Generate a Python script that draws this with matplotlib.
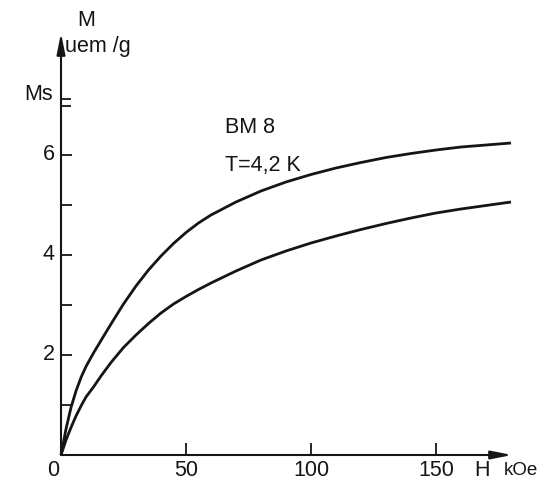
import matplotlib
matplotlib.use("Agg")
import matplotlib.pyplot as plt

# --- data ---
H = [0, 2, 4, 6, 8, 10, 13, 16, 20, 25, 30, 35, 40, 45, 50, 55, 60, 70, 80,
     90, 100, 110, 120, 130, 140, 150, 160, 170, 180]
M_upper = [0, 0.52, 0.95, 1.28, 1.55, 1.77, 2.04, 2.29, 2.62, 3.02, 3.38, 3.70,
           3.98, 4.23, 4.45, 4.64, 4.80, 5.06, 5.28, 5.46, 5.61, 5.74, 5.85,
           5.95, 6.03, 6.10, 6.16, 6.20, 6.24]
M_lower = [0, 0.30, 0.55, 0.78, 0.98, 1.16, 1.36, 1.58, 1.85, 2.15, 2.40, 2.63,
           2.84, 3.02, 3.17, 3.31, 3.44, 3.68, 3.90, 4.08, 4.24, 4.38, 4.51,
           4.63, 4.74, 4.84, 4.92, 4.99, 5.06]
x_ticks = [50, 100, 150]
x_labels = ["50", "100", "150"]
y_ticks = [1, 2, 3, 4, 5, 6]
y_labels = {2: "2", 4: "4", 6: "6"}
Ms = 7.05

plt.rcParams['font.family'] = ['Liberation Sans', 'DejaVu Sans']
ink = '#151515'

fig = plt.figure(figsize=(5.37, 4.86), dpi=100)
ax = fig.add_axes([0, 0, 1, 1])
ax.set_xlim(-24.4, 190.4)
ax.set_ylim(-0.62, 9.1)
ax.axis('off')

# axes with arrows
arrow = dict(arrowstyle='-|>,head_length=0.9,head_width=0.18', lw=1.5,
             color=ink, mutation_scale=14, shrinkA=0, shrinkB=0)
ax.annotate('', xy=(180.4, 0), xytext=(0, 0), arrowprops=arrow)
ax.annotate('', xy=(0, 8.44), xytext=(0, 0), arrowprops=arrow)

# ticks
ax.vlines(x_ticks, 0, 0.24, color=ink, lw=1.3)
ax.hlines(y_ticks, 0, 4.4, color=ink, lw=1.3)
ax.hlines([Ms - 0.075, Ms + 0.075], 0, 4.0, color=ink, lw=1.3)

# curves
ax.plot(H, M_upper, color=ink, lw=2.0, solid_capstyle='butt', solid_joinstyle='round')
ax.plot(H, M_lower, color=ink, lw=2.0, solid_capstyle='butt', solid_joinstyle='round')

fs = 15.5
for v, lab in y_labels.items():
    ax.text(-2.4, v, lab, ha='right', va='center', fontsize=fs, color=ink)
for v, lab in zip(x_ticks, x_labels):
    ax.text(v, -0.3, lab, ha='center', va='center', fontsize=fs, color=ink)
ax.text(-3.2, -0.3, "0", ha='center', va='center', fontsize=fs, color=ink)
ax.text(168.4, -0.3, "H", ha='center', va='center', fontsize=fs, color=ink)
ax.text(177.2, -0.3, "kOe", ha='left', va='center', fontsize=13.5, color=ink)
ax.text(10, 8.68, "M", ha='center', va='center', fontsize=fs, color=ink)
ax.text(1.6, 8.06, "uem /g", ha='left', va='baseline', fontsize=fs, color=ink)
ax.text(-3.2, 7.1, "Ms", ha='right', va='baseline', fontsize=fs, color=ink)
ax.text(65.6, 6.54, "BM 8", ha='left', va='center', fontsize=fs, color=ink)
ax.text(65.6, 5.8, "T=4,2 K", ha='left', va='center', fontsize=fs, color=ink)

fig.savefig("out.png", dpi=100, facecolor='white')
